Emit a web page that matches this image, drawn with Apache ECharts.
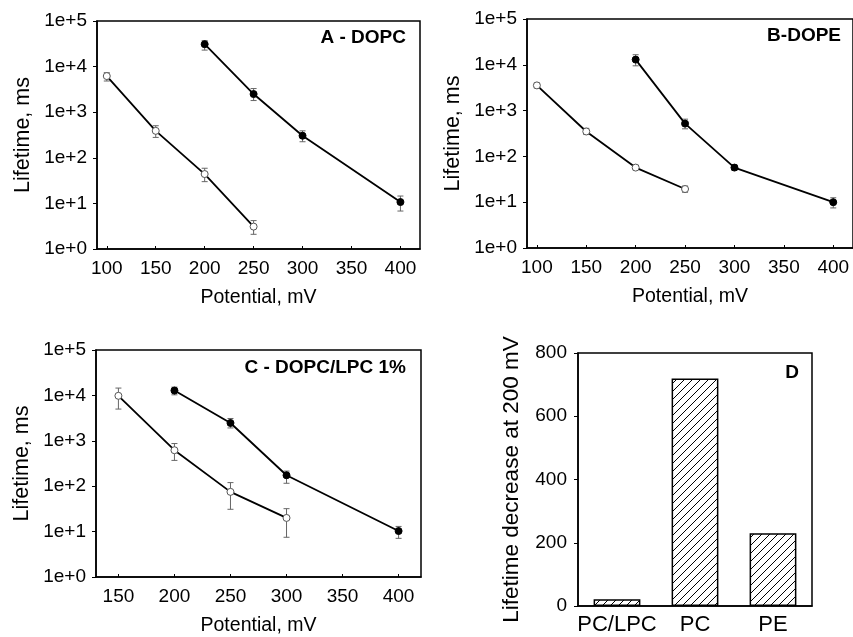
<!DOCTYPE html>
<html>
<head>
<meta charset="utf-8">
<script src="https://cdn.jsdelivr.net/npm/echarts@6/dist/echarts.min.js"></script>
<style>
html,body{margin:0;padding:0;background:#fff;}
#chart{width:853px;height:637px;}
</style>
</head>
<body>
<div id="chart"></div>
<script>
// ---- Data ----
const xTicksAB = [100, 150, 200, 250, 300, 350, 400];
const xTicksC = [150, 200, 250, 300, 350, 400];
const yTicksLog = [1, 10, 100, 1000, 10000, 100000];
const yTicksD = [0, 200, 400, 600, 800];

// Panel A - DOPC
const A_open_x = [100, 150, 200, 250];
const A_open_y = [6200, 390, 44, 3.1];
const A_open_lo = [4830, 280, 30, 2.1];
const A_open_hi = [7350, 505, 59, 4.2];
const A_fill_x = [200, 250, 300, 400];
const A_fill_y = [31000, 2500, 305, 10.7];
const A_fill_lo = [23000, 1800, 225, 6.8];
const A_fill_hi = [37000, 3300, 390, 14.5];

// Panel B - DOPE
const B_open_x = [100, 150, 200, 250];
const B_open_y = [3550, 350, 57, 19.4];
const B_open_lo = [3100, 300, 51, 16.5];
const B_open_hi = [4000, 410, 64, 22.5];
const B_fill_x = [200, 250, 300, 400];
const B_fill_y = [13000, 520, 57, 10];
const B_fill_lo = [9500, 400, 50, 7.5];
const B_fill_hi = [16600, 650, 65, 12.5];

// Panel C - DOPC/LPC 1%
const C_open_x = [150, 200, 250, 300];
const C_open_y = [9800, 620, 75, 20];
const C_open_lo = [5000, 370, 31, 7.5];
const C_open_hi = [14500, 870, 120, 32];
const C_fill_x = [200, 250, 300, 400];
const C_fill_y = [12800, 2470, 174, 10.3];
const C_fill_lo = [10300, 1920, 116, 7.1];
const C_fill_hi = [15200, 3100, 215, 13];

// Panel D
const D_categories = ['PC/LPC', 'PC', 'PE'];
const D_values = [21, 719, 230];

// ---- Build ----
const FONT = "'Liberation Sans', Arial, sans-serif";
const chart = echarts.init(document.getElementById('chart'), null, {renderer: 'canvas'});

const hatch = document.createElement('canvas');
hatch.width = 8; hatch.height = 8;
(function(){
  const ctx = hatch.getContext('2d');
  ctx.fillStyle = '#fff'; ctx.fillRect(0,0,8,8);
  ctx.strokeStyle = '#000'; ctx.lineWidth = 1;
  ctx.beginPath();
  ctx.moveTo(0,8); ctx.lineTo(8,0);
  ctx.moveTo(-2,2); ctx.lineTo(2,-2);
  ctx.moveTo(6,10); ctx.lineTo(10,6);
  ctx.stroke();
})();

const grids = [
  {left: 97, top: 21, width: 323, height: 228},
  {left: 527, top: 19, width: 328, height: 229},
  {left: 96, top: 350, width: 325, height: 228},
  {left: 578, top: 353, width: 234, height: 253}
].map(g => Object.assign({show: true, borderColor: '#000', borderWidth: 1.5, backgroundColor: 'transparent'}, g));

function logY(idx) {
  return {
    type: 'log', gridIndex: idx, logBase: 10, min: 1, max: 100000,
    name: 'Lifetime, ms', nameLocation: 'middle', nameGap: 63,
    nameTextStyle: {fontFamily: FONT, fontSize: 21.5, color: '#000'},
    axisLine: {show: true, lineStyle: {color: '#000', width: 1.5}},
    axisTick: {show: true, inside: false, length: 4, lineStyle: {color: '#000'}, customValues: yTicksLog},
    axisLabel: {fontFamily: FONT, fontSize: 19, color: '#000', margin: 10, customValues: yTicksLog,
      formatter: v => '1e+' + Math.round(Math.log10(v))},
    splitLine: {show: false}, minorTick: {show: false}
  };
}
function valX(idx, min, ticks) {
  return {
    type: 'value', gridIndex: idx, min: min, max: 420,
    name: 'Potential, mV', nameLocation: 'middle', nameGap: 39,
    nameTextStyle: {fontFamily: FONT, fontSize: 19.5, color: '#000'},
    axisLine: {show: true, onZero: false, lineStyle: {color: '#000', width: 1.5}},
    axisTick: {show: true, inside: true, length: 3, lineStyle: {color: '#000'}, customValues: ticks},
    axisLabel: {fontFamily: FONT, fontSize: 19, color: '#000', margin: 10, customValues: ticks},
    splitLine: {show: false}
  };
}

function lineSeries(idx, xs, ys, filled) {
  return {
    type: 'line', xAxisIndex: idx, yAxisIndex: idx,
    data: xs.map((x, k) => [x, ys[k]]),
    symbol: 'circle', symbolSize: 7,
    lineStyle: {color: '#000', width: 1.8},
    itemStyle: filled ? {color: '#000', borderColor: '#000', borderWidth: 1}
                      : {color: '#fff', borderColor: '#555', borderWidth: 1},
    z: 3, silent: true, animation: false
  };
}
function errSeries(idx, xs, lo, hi) {
  return {
    type: 'custom', xAxisIndex: idx, yAxisIndex: idx,
    data: xs.map((x, k) => [x, lo[k], hi[k]]),
    encode: {x: 0, y: [1, 2]},
    renderItem: function(params, api) {
      const p1 = api.coord([api.value(0), api.value(1)]);
      const p2 = api.coord([api.value(0), api.value(2)]);
      const w = 3;
      const st = {stroke: '#666', lineWidth: 1};
      return {type: 'group', children: [
        {type: 'line', shape: {x1: p1[0], y1: p1[1], x2: p2[0], y2: p2[1]}, style: st},
        {type: 'line', shape: {x1: p1[0]-w, y1: p1[1], x2: p1[0]+w, y2: p1[1]}, style: st},
        {type: 'line', shape: {x1: p2[0]-w, y1: p2[1], x2: p2[0]+w, y2: p2[1]}, style: st}
      ]};
    },
    z: 2, silent: true, animation: false
  };
}

const option = {
  backgroundColor: '#fff',
  animation: false,
  grid: grids,
  xAxis: [
    valX(0, 90, xTicksAB),
    valX(1, 90, xTicksAB),
    valX(2, 130, xTicksC),
    {
      type: 'category', gridIndex: 3, data: D_categories,
      axisLine: {show: true, lineStyle: {color: '#000', width: 1.5}},
      axisTick: {show: true, inside: true, length: 3, alignWithLabel: true, lineStyle: {color: '#000'}},
      axisLabel: {fontFamily: FONT, fontSize: 22, color: '#000', margin: 8, interval: 0}
    }
  ],
  yAxis: [
    logY(0), logY(1), logY(2),
    {
      type: 'value', gridIndex: 3, min: 0, max: 800, interval: 200,
      name: 'Lifetime decrease at 200 mV', nameLocation: 'middle', nameGap: 55,
      nameTextStyle: {fontFamily: FONT, fontSize: 22.5, color: '#000'},
      axisLine: {show: true, lineStyle: {color: '#000', width: 1.5}},
      axisTick: {show: true, inside: false, length: 4, lineStyle: {color: '#000'}},
      axisLabel: {fontFamily: FONT, fontSize: 19, color: '#000', margin: 11},
      splitLine: {show: false}
    }
  ],
  series: [
    errSeries(0, A_open_x, A_open_lo, A_open_hi),
    errSeries(0, A_fill_x, A_fill_lo, A_fill_hi),
    lineSeries(0, A_open_x, A_open_y, false),
    lineSeries(0, A_fill_x, A_fill_y, true),
    errSeries(1, B_open_x, B_open_lo, B_open_hi),
    errSeries(1, B_fill_x, B_fill_lo, B_fill_hi),
    lineSeries(1, B_open_x, B_open_y, false),
    lineSeries(1, B_fill_x, B_fill_y, true),
    errSeries(2, C_open_x, C_open_lo, C_open_hi),
    errSeries(2, C_fill_x, C_fill_lo, C_fill_hi),
    lineSeries(2, C_open_x, C_open_y, false),
    lineSeries(2, C_fill_x, C_fill_y, true),
    {
      type: 'bar', xAxisIndex: 3, yAxisIndex: 3, data: D_values,
      barWidth: '60%',
      itemStyle: {color: {image: hatch, repeat: 'repeat'}, borderColor: '#000', borderWidth: 1.5},
      silent: true
    }
  ],
  graphic: [
    {type: 'text', x: 406, y: 38, style: {text: 'A - DOPC', font: "bold 19px " + FONT, fill: '#000', textAlign: 'right', textVerticalAlign: 'middle'}},
    {type: 'text', x: 841, y: 36, style: {text: 'B-DOPE', font: "bold 19px " + FONT, fill: '#000', textAlign: 'right', textVerticalAlign: 'middle'}},
    {type: 'text', x: 406, y: 368, style: {text: 'C - DOPC/LPC 1%', font: "bold 19px " + FONT, fill: '#000', textAlign: 'right', textVerticalAlign: 'middle'}},
    {type: 'text', x: 799, y: 373, style: {text: 'D', font: "bold 19px " + FONT, fill: '#000', textAlign: 'right', textVerticalAlign: 'middle'}}
  ]
};
chart.setOption(option);
</script>
</body>
</html>
